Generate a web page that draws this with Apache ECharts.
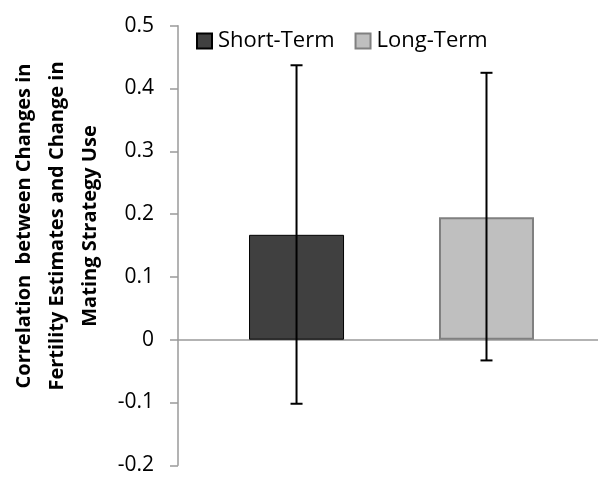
<!DOCTYPE html>
<html>
<head>
<meta charset="utf-8">
<script src="https://cdn.jsdelivr.net/npm/echarts@6/dist/echarts.min.js"></script>
<style>
  html, body { margin: 0; padding: 0; background: #fff; }
  #chart { width: 598px; height: 477px; }
</style>
</head>
<body>
<div id="chart"></div>
<script>
// Series names, bar values and error-bar bounds (lower, upper)
const seriesNames = ['Short-Term', 'Long-Term'];
const barValues = [0.167, 0.195];
const errLower = [-0.102, -0.033];
const errUpper = [0.437, 0.425];
// Y axis range and step
const yMin = -0.2;
const yMax = 0.5;
const yStep = 0.1;

const FONT = '"Open Sans", "Noto Sans", sans-serif';
const BAR_WIDTH = 95;
const AXIS_GREY = '#9a9a9a';

const barStyles = [
  { color: '#404040', borderColor: '#000000', borderWidth: 1 },
  { color: '#bfbfbf', borderColor: '#808080', borderWidth: 2 }
];

const chart = echarts.init(document.getElementById('chart'), null, { renderer: 'canvas' });

// Each group sits at its own slot (0, 1) along a hidden horizontal axis
const barSeries = seriesNames.map((name, i) => ({
  name: name,
  type: 'bar',
  data: [[i, barValues[i]]],
  barWidth: BAR_WIDTH,
  barGap: '-100%',
  itemStyle: barStyles[i],
  emphasis: { disabled: true },
  z: 2
}));

// Error bars: vertical whisker with caps, drawn over each bar
const errorSeries = {
  type: 'custom',
  silent: true,
  z: 5,
  data: seriesNames.map((_, i) => [i, errLower[i], errUpper[i]]),
  renderItem: function (params, api) {
    const lo = api.coord([api.value(0), api.value(1)]);
    const hi = api.coord([api.value(0), api.value(2)]);
    const x = lo[0];
    const cap = 6;
    const style = { stroke: '#000', lineWidth: 2 };
    return {
      type: 'group',
      children: [
        { type: 'line', shape: { x1: x, y1: lo[1], x2: x, y2: hi[1] }, style: style },
        { type: 'line', shape: { x1: x - cap, y1: hi[1], x2: x + cap, y2: hi[1] }, style: style },
        { type: 'line', shape: { x1: x - cap, y1: lo[1], x2: x + cap, y2: lo[1] }, style: style }
      ]
    };
  }
};

chart.setOption({
  animation: false,
  backgroundColor: '#ffffff',
  grid: { left: 178, right: 0, top: 25.7, bottom: 11.7, containLabel: false },
  legend: {
    data: seriesNames,
    left: 196,
    top: 30,
    padding: 0,
    icon: 'rect',
    itemWidth: 15,
    itemHeight: 15,
    itemGap: 20,
    textStyle: { fontFamily: FONT, fontSize: 22, color: '#000', padding: [0, 0, 0, 1] }
  },
  xAxis: {
    type: 'value',
    min: -0.624,
    max: 1.587,
    axisLine: { show: true, onZero: true, lineStyle: { color: AXIS_GREY, width: 1.5 } },
    axisTick: { show: false },
    axisLabel: { show: false },
    splitLine: { show: false }
  },
  yAxis: {
    type: 'value',
    min: yMin,
    max: yMax,
    interval: yStep,
    axisLine: { show: true, onZero: false, lineStyle: { color: AXIS_GREY, width: 1.5 } },
    axisTick: { show: true, inside: false, length: 8, lineStyle: { color: AXIS_GREY, width: 1.5 } },
    axisLabel: {
      margin: 24,
      fontFamily: FONT,
      fontSize: 21,
      color: '#000',
      formatter: v => (Math.abs(v) < 1e-9 ? '0' : v.toFixed(1))
    },
    splitLine: { show: false }
  },
  graphic: [{
    type: 'text',
    x: 57,
    y: 226,
    rotation: Math.PI / 2,
    style: {
      text: 'Correlation  between Changes in\nFertility Estimates and Change in\nMating Strategy Use',
      fontFamily: FONT,
      fontWeight: 'bold',
      fontSize: 20,
      lineHeight: 33,
      fill: '#000',
      align: 'center',
      verticalAlign: 'middle'
    }
  }],
  series: barSeries.concat([errorSeries])
});
</script>
</body>
</html>
